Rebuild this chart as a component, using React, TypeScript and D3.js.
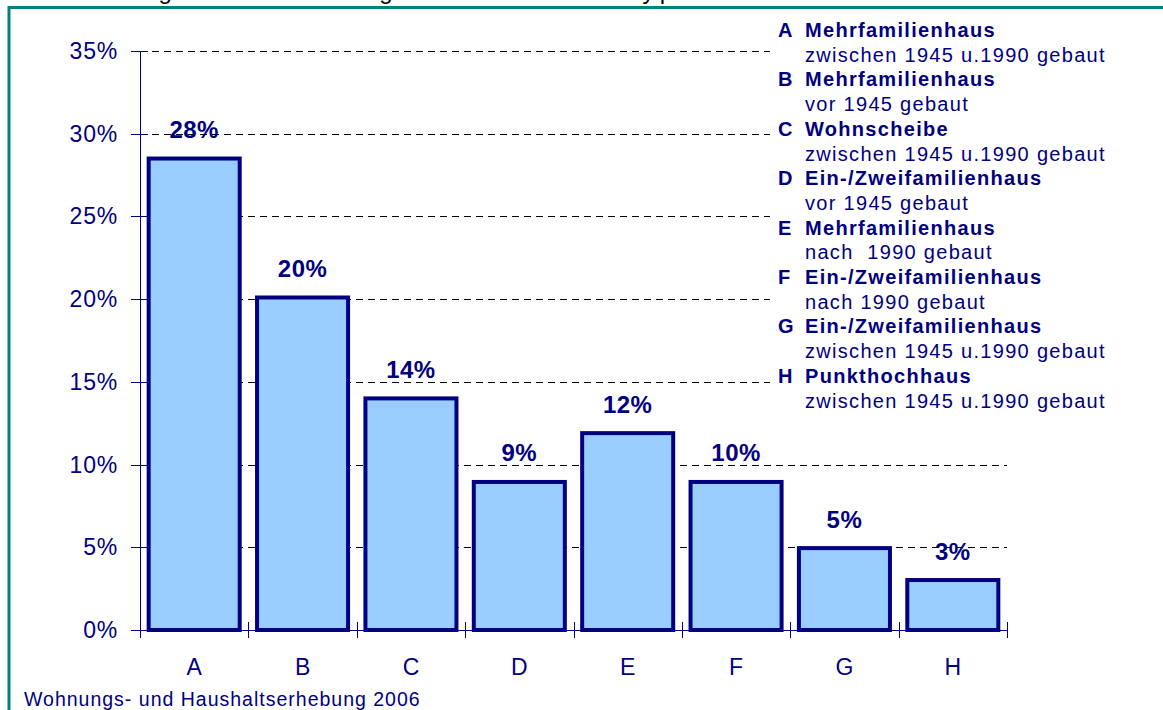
import React from "react";
import * as d3 from "d3";

const categories = ["A", "B", "C", "D", "E", "F", "G", "H"];
const values = [0.285, 0.201, 0.14, 0.0895, 0.119, 0.0895, 0.0495, 0.0302];
const valueLabels = ["28%", "20%", "14%", "9%", "12%", "10%", "5%", "3%"];
const yTicks = [0, 0.05, 0.1, 0.15, 0.2, 0.25, 0.3, 0.35];
const legendTitles = [
  "Mehrfamilienhaus",
  "Mehrfamilienhaus",
  "Wohnscheibe",
  "Ein-/Zweifamilienhaus",
  "Mehrfamilienhaus",
  "Ein-/Zweifamilienhaus",
  "Ein-/Zweifamilienhaus",
  "Punkthochhaus",
];
const legendSubtitles = [
  "zwischen 1945 u.1990 gebaut",
  "vor 1945 gebaut",
  "zwischen 1945 u.1990 gebaut",
  "vor 1945 gebaut",
  "nach  1990 gebaut",
  "nach 1990 gebaut",
  "zwischen 1945 u.1990 gebaut",
  "zwischen 1945 u.1990 gebaut",
];
const titleText = "Wohnungen: Verteilung nach Gebäudetyp";
const footerText = "Wohnungs- und Haushaltserhebung 2006";

const NAVY = "#000080";
const FILL = "#99CCFF";
const TEAL = "#008080";
const FONT = "'Liberation Sans', Arial, Helvetica, sans-serif";

export default function App() {
  const W = 1163;
  const H = 710;
  const left = 140;
  const right = 1007;
  const top = 51;
  const bottom = 630;

  const y = d3.scaleLinear().domain([0, 0.35]).range([bottom, top]);
  const x = d3
    .scaleBand<string>()
    .domain(categories)
    .range([left, right])
    .paddingInner(0.16)
    .paddingOuter(0.08);
  const step = x.step();
  const start = x.range()[0];
  const boundaries = d3.range(categories.length + 1).map((i) => start + i * step);

  const legendTop = 30;
  const legendStep = 24.7;

  return (
    <svg
      width={W}
      height={H}
      style={{ position: "absolute", left: 0, top: 0, background: "#fff" }}
      fontFamily={FONT}
    >
      <rect x={0} y={0} width={W} height={H} fill="#fff" />
      {/* cut-off title */}
      <text x={38} y={-1.5} fontSize={24} fill="#000" textLength={635} lengthAdjust="spacing">
        {titleText}
      </text>
      {/* frame */}
      <rect x={9} y={7.5} width={1300} height={900} fill="none" stroke={TEAL} strokeWidth={3} />

      {/* gridlines */}
      {yTicks
        .filter((t) => t > 0)
        .map((t) => (
          <line
            key={"g" + t}
            x1={left}
            x2={right}
            y1={Math.round(y(t)) + 0.5}
            y2={Math.round(y(t)) + 0.5}
            stroke="#000"
            strokeWidth={1}
            strokeDasharray="7,5"
          />
        ))}

      {/* legend box */}
      <rect x={770} y={14} width={380} height={398} fill="#fff" />
      {legendTitles.map((t, i) => (
        <g key={"l" + i}>
          <text
            x={778}
            y={legendTop + 2 * i * legendStep}
            dominantBaseline="central"
            fontSize={20}
            fontWeight="bold"
            fill={NAVY}
          >
            {categories[i]}
          </text>
          <text
            x={805}
            y={legendTop + 2 * i * legendStep}
            dominantBaseline="central"
            fontSize={20}
            fontWeight="bold"
            letterSpacing={1.3}
            fill={NAVY}
          >
            {t}
          </text>
          <text
            x={805}
            y={legendTop + (2 * i + 1) * legendStep}
            dominantBaseline="central"
            fontSize={20}
            letterSpacing={1.3}
            fill={NAVY}
            style={{ whiteSpace: "pre" }}
          >
            {legendSubtitles[i]}
          </text>
        </g>
      ))}

      {/* bars */}
      {categories.map((c, i) => (
        <rect
          key={"b" + c}
          x={x(c)!}
          y={y(values[i])}
          width={x.bandwidth()}
          height={bottom - y(values[i])}
          fill={FILL}
          stroke={NAVY}
          strokeWidth={4}
        />
      ))}

      {/* value labels */}
      {categories.map((c, i) => (
        <text
          key={"v" + c}
          x={x(c)! + x.bandwidth() / 2}
          y={y(values[i]) - 29}
          textAnchor="middle"
          dominantBaseline="central"
          fontSize={24}
          fontWeight="bold"
          letterSpacing={0.5}
          fill={NAVY}
        >
          {valueLabels[i]}
        </text>
      ))}

      {/* y axis */}
      <line x1={left + 0.5} x2={left + 0.5} y1={top} y2={bottom} stroke={NAVY} strokeWidth={1} />
      {yTicks.map((t) => (
        <g key={"yt" + t}>
          <line
            x1={131}
            x2={148}
            y1={Math.round(y(t)) + 0.5}
            y2={Math.round(y(t)) + 0.5}
            stroke={NAVY}
            strokeWidth={1}
          />
          <text
            x={118}
            y={y(t)}
            textAnchor="end"
            dominantBaseline="central"
            fontSize={23}
            letterSpacing={0.8}
            fill={NAVY}
          >
            {d3.format(".0%")(t)}
          </text>
        </g>
      ))}

      {/* x axis */}
      <line x1={left} x2={right} y1={bottom + 0.5} y2={bottom + 0.5} stroke={NAVY} strokeWidth={1} />
      {boundaries.map((b, i) => (
        <line
          key={"xt" + i}
          x1={Math.round(b) + 0.5}
          x2={Math.round(b) + 0.5}
          y1={622}
          y2={638}
          stroke={NAVY}
          strokeWidth={1}
        />
      ))}
      {categories.map((c) => (
        <text
          key={"xl" + c}
          x={x(c)! + x.bandwidth() / 2}
          y={667}
          textAnchor="middle"
          dominantBaseline="central"
          fontSize={23}
          fill={NAVY}
        >
          {c}
        </text>
      ))}

      {/* footer */}
      <text x={24} y={706} fontSize={19.5} letterSpacing={1} fill={NAVY}>
        {footerText}
      </text>
    </svg>
  );
}
